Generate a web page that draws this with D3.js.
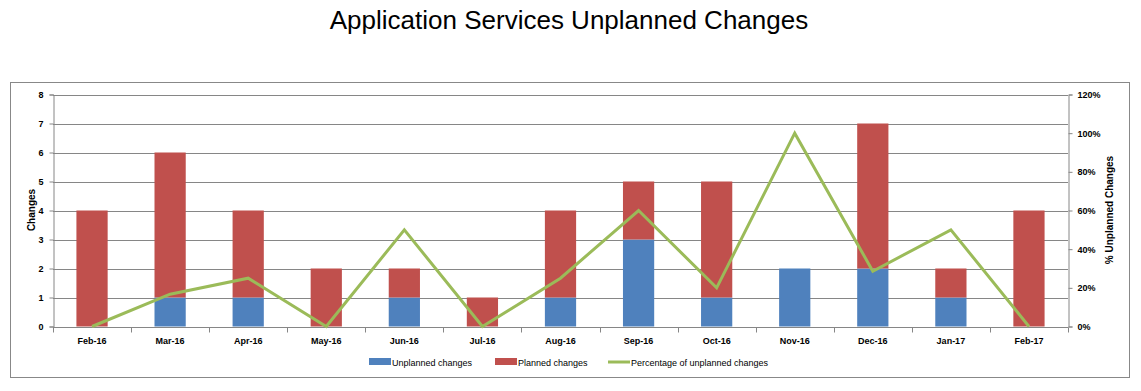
<!DOCTYPE html>
<html><head><meta charset="utf-8">
<script src="https://cdn.jsdelivr.net/npm/d3@7"></script>
<style>body{margin:0;background:#fff}</style>
</head><body>
<svg id="c" width="1141" height="391"></svg>
<script>
const categories = ["Feb-16","Mar-16","Apr-16","May-16","Jun-16","Jul-16","Aug-16","Sep-16","Oct-16","Nov-16","Dec-16","Jan-17","Feb-17"];
const unplanned = [0,1,1,0,1,0,1,3,1,2,2,1,0];
const planned = [4,5,3,2,1,1,3,2,4,0,5,1,4];
const pctUnplanned = [0,16.7,25,0,50,0,25,60,20,100,28.6,50,0];
const leftTicks = [0,1,2,3,4,5,6,7,8];
const rightTicks = [0,20,40,60,80,100,120];

const svg = d3.select("#c");
const m = {l:53, r:1068, t:94.5, b:326.5};
const titleFont = "'Liberation Sans', Arial, sans-serif";
const smallFont = "'Liberation Sans', Arial, sans-serif";

svg.append("text").attr("x", 569).attr("y", 29).attr("text-anchor","middle")
  .style("font-family", titleFont).style("font-size","26px").attr("fill","#000")
  .text("Application Services Unplanned Changes");

svg.append("rect").attr("x",10.5).attr("y",82.5).attr("width",1119).attr("height",295)
  .attr("fill","none").attr("stroke","#888").attr("stroke-width",1);

const x = d3.scaleBand().domain(categories).range([m.l, m.r]).paddingInner(0.6).paddingOuter(0.3);
const y = d3.scaleLinear().domain([0,8]).range([m.b, m.t]);
const y2 = d3.scaleLinear().domain([0,120]).range([m.b, m.t]);

// gridlines
svg.append("g").selectAll("line").data(leftTicks.filter(d=>d>0)).join("line")
  .attr("x1", m.l).attr("x2", m.r).attr("y1", d=>Math.round(y(d))+0.5).attr("y2", d=>Math.round(y(d))+0.5)
  .attr("stroke","#868686").attr("stroke-width",1);

// bars
const stack = categories.map((c,i)=>({c, u:unplanned[i], p:planned[i]}));
const g = svg.append("g");
g.selectAll("rect.u").data(stack).join("rect").attr("class","u")
  .attr("x", d=>x(d.c)).attr("width", x.bandwidth())
  .attr("y", d=>y(d.u)).attr("height", d=>y(0)-y(d.u)).attr("fill","#4F81BD");
g.selectAll("rect.p").data(stack).join("rect").attr("class","p")
  .attr("x", d=>x(d.c)).attr("width", x.bandwidth())
  .attr("y", d=>y(d.u+d.p)).attr("height", d=>y(d.u)-y(d.u+d.p)).attr("fill","#C0504D");

// axes
const yAx = svg.append("g").attr("transform",`translate(${m.l+0.5},0)`)
  .call(d3.axisLeft(y).tickValues(leftTicks).tickSize(4).tickPadding(6).tickFormat(d3.format("d")));
const y2Ax = svg.append("g").attr("transform",`translate(${m.r+0.5},0)`)
  .call(d3.axisRight(y2).tickValues(rightTicks).tickSize(4).tickPadding(5).tickFormat(d=>d+"%"));
const xAx = svg.append("g").attr("transform",`translate(0,${Math.round(m.b)+0.5})`)
  .call(d3.axisBottom(x).tickSize(0).tickPadding(10));
const bounds = d3.range(categories.length+1).map(i=>m.l + i*(m.r-m.l)/categories.length);
svg.append("g").selectAll("line").data(bounds).join("line")
  .attr("x1", d=>Math.round(d)+0.5).attr("x2", d=>Math.round(d)+0.5)
  .attr("y1", Math.round(m.b)+0.5).attr("y2", Math.round(m.b)+5.5).attr("stroke","#868686");

[yAx,y2Ax,xAx].forEach(a=>{
  a.selectAll(".domain").attr("stroke","#868686");
  a.selectAll(".tick line").attr("stroke","#868686");
  a.selectAll("text").style("font-family",smallFont).style("font-size","9px").style("font-weight","bold").attr("fill","#000");
});
xAx.select(".domain").attr("d", `M${m.l},0H${m.r+0.5}`);

// line
const line = d3.line().x((d,i)=>x(categories[i])+x.bandwidth()/2).y(d=>y2(d));
svg.append("path").datum(pctUnplanned).attr("d", line).attr("fill","none")
  .attr("stroke","#9BBB59").attr("stroke-width",3).attr("stroke-linejoin","miter");

// axis titles
svg.append("text").attr("transform",`translate(35,210) rotate(-90)`).attr("text-anchor","middle")
  .style("font-family",smallFont).style("font-size","10px").style("font-weight","bold").text("Changes");
svg.append("text").attr("transform",`translate(1113,210) rotate(-90)`).attr("text-anchor","middle")
  .style("font-family",smallFont).style("font-size","10px").style("font-weight","bold").text("% Unplanned Changes");

// legend
const legend = [
  {t:"Unplanned changes", c:"#4F81BD", k:"rect", x:369},
  {t:"Planned changes", c:"#C0504D", k:"rect", x:495},
  {t:"Percentage of unplanned changes", c:"#9BBB59", k:"line", x:608}
];
const lg = svg.append("g").selectAll("g").data(legend).join("g").attr("transform",d=>`translate(${d.x},362)`);
lg.filter(d=>d.k==="rect").append("rect").attr("x",0).attr("y",-4).attr("width",22).attr("height",7).attr("fill",d=>d.c);
lg.filter(d=>d.k==="line").append("line").attr("x1",0).attr("x2",22).attr("y1",0).attr("y2",0).attr("stroke",d=>d.c).attr("stroke-width",3);
lg.append("text").attr("x",23).attr("y",3.5).style("font-family",smallFont).style("font-size","9px").attr("fill","#000").text(d=>d.t);
</script>
</body></html>
